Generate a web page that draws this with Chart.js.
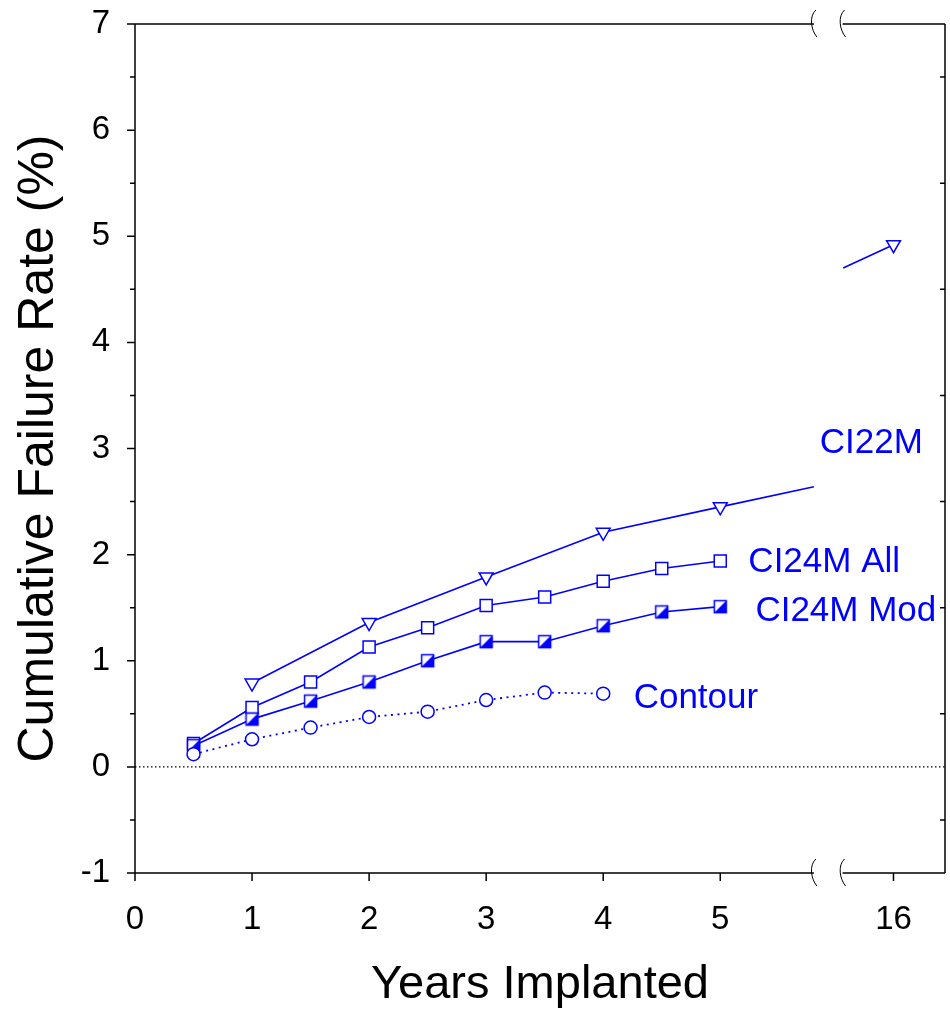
<!DOCTYPE html>
<html>
<head>
<meta charset="utf-8">
<script src="https://cdn.jsdelivr.net/npm/chart.js@4.4.1/dist/chart.umd.min.js"></script>
<style>
body { margin: 0; background: #fff; }
canvas { display: block; }
</style>
</head>
<body>
<canvas id="chart" width="950" height="1009"></canvas>
<script>
// years implanted / cumulative failure rate (%)
// 5.8 and 15.57 are the ends of the CI22M line at the axis break (no marker)
const ci22mYears = [1, 2, 3, 4, 5, 5.8, 15.57, 16];
const ci22mRate = [0.79, 1.36, 1.79, 2.21, 2.45, 2.64, 4.70, 4.92];
const ci24mAllYears = [0.5, 1, 1.5, 2, 2.5, 3, 3.5, 4, 4.5, 5];
const ci24mAllRate = [0.22, 0.56, 0.80, 1.13, 1.31, 1.52, 1.60, 1.75, 1.87, 1.94];
const ci24mModYears = [0.5, 1, 1.5, 2, 2.5, 3, 3.5, 4, 4.5, 5];
const ci24mModRate = [0.20, 0.45, 0.62, 0.80, 1.00, 1.18, 1.18, 1.33, 1.46, 1.51];
const contourYears = [0.5, 1, 1.5, 2, 2.5, 3, 3.5, 4];
const contourRate = [0.12, 0.26, 0.37, 0.47, 0.52, 0.63, 0.70, 0.69];

const xTickYears = [0, 1, 2, 3, 4, 5, 16];
const seriesNames = ['CI22M', 'CI24M All', 'CI24M Mod', 'Contour'];

const FONT = "'Liberation Sans', Arial, Helvetica, sans-serif";
const BLUE = '#0000ff';

// axis is broken after 6 years, 16 years sits at 6.48
const breakAfter = 6;
const breakShift = 9.52;
const axisBreak = [5.8, 6.045];
function axisX(year) {
    return year > breakAfter ? year - breakShift : year;
}

function toPoints(years, rates) {
    let pts = [];
    for (let i = 0; i < years.length; i++) {
        if (i > 0 && years[i - 1] <= breakAfter && years[i] > breakAfter) {
            pts.push({x: axisX(breakAfter), y: null, yr: null}); // gap over the break
        }
        pts.push({x: axisX(years[i]), y: rates[i], yr: years[i]});
    }
    return pts;
}

function isMarker(ctx) {
    const r = ctx.raw;
    return r && r.yr !== null && Number.isInteger(r.yr * 2);
}

// half filled square marker
function halfSquare() {
    const c = document.createElement('canvas');
    c.width = 17; c.height = 17;
    const g = c.getContext('2d');
    g.fillStyle = '#fff';
    g.fillRect(2.5, 2.5, 12, 12);
    g.fillStyle = BLUE;
    g.beginPath();
    g.moveTo(14.5, 2.5);
    g.lineTo(14.5, 14.5);
    g.lineTo(2.5, 14.5);
    g.closePath();
    g.fill();
    g.strokeStyle = BLUE;
    g.lineWidth = 1.5;
    g.strokeRect(2.5, 2.5, 12, 12);
    return c;
}

// series labels, in axis units (x) and rate (baseline y)
const labelX = [5.85, 5.24, 5.30, 4.26];
const labelY = [2.96, 1.84, 1.37, 0.556];

const framePlugin = {
    id: 'frame',
    beforeDatasetsDraw(chart) {
        const {ctx, chartArea: a, scales: {y}} = chart;
        ctx.save();
        ctx.strokeStyle = '#000';
        ctx.lineWidth = 1.2;
        ctx.setLineDash([1.5, 2.5]);
        ctx.beginPath();
        ctx.moveTo(a.left, y.getPixelForValue(0));
        ctx.lineTo(a.right, y.getPixelForValue(0));
        ctx.stroke();
        ctx.restore();
    },
    afterDatasetsDraw(chart) {
        const {ctx, scales: {x, y}} = chart;
        ctx.save();
        ctx.fillStyle = BLUE;
        ctx.font = '35px ' + FONT;
        ctx.textAlign = 'left';
        ctx.textBaseline = 'alphabetic';
        seriesNames.forEach((name, i) => {
            ctx.fillText(name, x.getPixelForValue(labelX[i]), y.getPixelForValue(labelY[i]));
        });
        ctx.restore();
    },
    afterDraw(chart) {
        const {ctx, chartArea: a, scales: {x, y}} = chart;
        const b1 = x.getPixelForValue(axisBreak[0]);
        const b2 = x.getPixelForValue(axisBreak[1]);
        ctx.save();
        ctx.strokeStyle = '#000';
        ctx.lineWidth = 1.5;
        ctx.beginPath();
        // left and right
        ctx.moveTo(a.left, a.top); ctx.lineTo(a.left, a.bottom);
        ctx.moveTo(a.right, a.top); ctx.lineTo(a.right, a.bottom);
        // top and bottom, split at the break
        [a.top, a.bottom].forEach(py => {
            ctx.moveTo(a.left, py); ctx.lineTo(b1, py);
            ctx.moveTo(b2, py); ctx.lineTo(a.right, py);
        });
        // y ticks
        for (let v = -1; v <= 7; v += 0.5) {
            const py = y.getPixelForValue(v);
            const len = Number.isInteger(v) ? 8 : 5;
            ctx.moveTo(a.left - len, py); ctx.lineTo(a.left, py);
            if (!Number.isInteger(v)) {
                ctx.moveTo(a.right - 5, py); ctx.lineTo(a.right, py);
            }
        }
        // x ticks
        xTickYears.forEach(yr => {
            const px = x.getPixelForValue(axisX(yr));
            ctx.moveTo(px, a.bottom); ctx.lineTo(px, a.bottom + 8);
        });
        ctx.stroke();

        // break marks
        ctx.lineWidth = 1;
        [b1, b2].forEach(px => {
            [a.top, a.bottom].forEach(py => {
                ctx.beginPath();
                ctx.moveTo(px + 2, py - 14);
                ctx.bezierCurveTo(px - 5, py - 8, px - 3, py + 6, px + 3, py + 13);
                ctx.stroke();
            });
        });
        ctx.restore();
    }
};

const ctx = document.getElementById('chart').getContext('2d');
const chart = new Chart(ctx, {
    type: 'line',
    data: {
        datasets: [
            {
                label: 'Contour',
                data: toPoints(contourYears, contourRate),
                borderColor: BLUE,
                borderWidth: 1.8,
                borderDash: [2, 4.5],
                pointStyle: 'circle',
                pointRadius: 6.5,
                pointBorderWidth: 1.5,
                pointBorderColor: BLUE,
                pointBackgroundColor: '#fff'
            },
            {
                label: 'CI24M Mod',
                data: toPoints(ci24mModYears, ci24mModRate),
                borderColor: BLUE,
                borderWidth: 1.6,
                pointStyle: halfSquare(),
                pointRadius: 8
            },
            {
                label: 'CI24M All',
                data: toPoints(ci24mAllYears, ci24mAllRate),
                borderColor: BLUE,
                borderWidth: 1.6,
                pointStyle: 'rect',
                pointRadius: 8.5,
                pointBorderWidth: 1.5,
                pointBorderColor: BLUE,
                pointBackgroundColor: '#fff'
            },
            {
                label: 'CI22M',
                data: toPoints(ci22mYears, ci22mRate),
                borderColor: BLUE,
                borderWidth: 1.6,
                pointStyle: 'triangle',
                rotation: 180,
                pointRadius: c => isMarker(c) ? 8 : 0,
                pointBorderWidth: 1.5,
                pointBorderColor: BLUE,
                pointBackgroundColor: '#fff'
            }
        ]
    },
    options: {
        responsive: false,
        animation: false,
        events: [],
        spanGaps: false,
        layout: {autoPadding: false, padding: {top: 24, right: 5, left: 0, bottom: 0}},
        plugins: {legend: {display: false}, tooltip: {enabled: false}},
        scales: {
            x: {
                type: 'linear',
                min: 0,
                max: 6.92,
                grid: {display: false, drawTicks: false},
                border: {display: false},
                afterBuildTicks: s => { s.ticks = xTickYears.map(v => ({value: axisX(v)})); },
                afterFit: s => {
                    s.height = 136;
                    s.paddingLeft = 0;
                    s.paddingRight = 0;
                },
                ticks: {
                    autoSkip: false,
                    maxRotation: 0,
                    padding: 27,
                    color: '#000',
                    font: {family: FONT, size: 33},
                    callback: (v, i) => String(xTickYears[i])
                },
                title: {
                    display: true,
                    text: 'Years Implanted',
                    color: '#000',
                    font: {family: FONT, size: 47, lineHeight: 1.0},
                    padding: {top: 0, bottom: 0}
                }
            },
            y: {
                min: -1,
                max: 7,
                grid: {display: false, drawTicks: false},
                border: {display: false},
                afterFit: s => {
                    s.width = 135;
                    s.paddingTop = 0;
                    s.paddingBottom = 0;
                },
                ticks: {
                    stepSize: 1,
                    padding: 25,
                    color: '#000',
                    font: {family: FONT, size: 33}
                },
                title: {
                    display: true,
                    text: 'Cumulative Failure Rate (%)',
                    color: '#000',
                    font: {family: FONT, size: 50, lineHeight: 1.2},
                    padding: {top: 9, bottom: 0}
                }
            }
        }
    },
    plugins: [framePlugin]
});
</script>
</body>
</html>
